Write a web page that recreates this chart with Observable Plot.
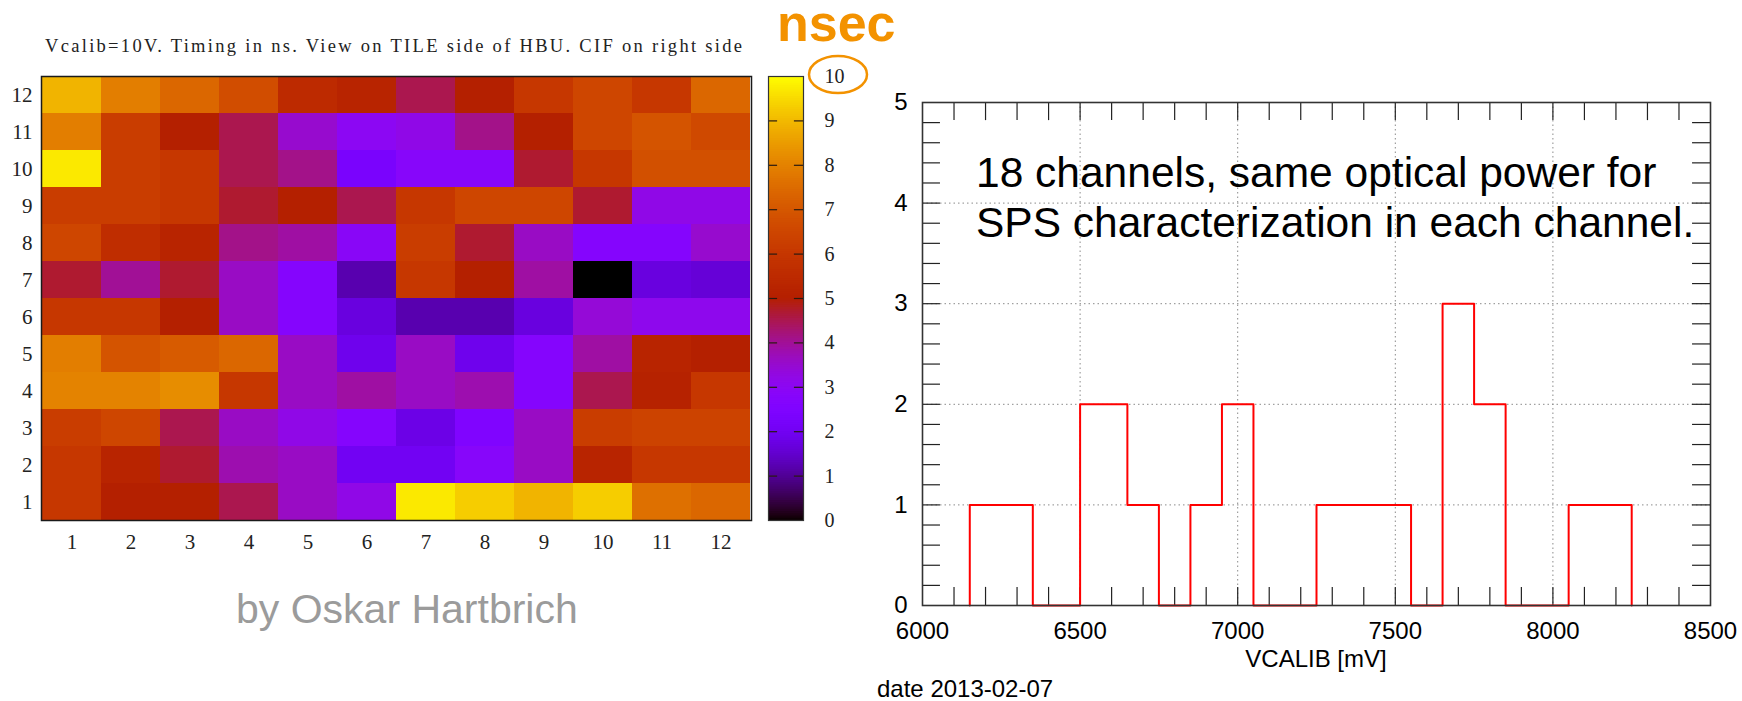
<!DOCTYPE html>
<html>
<head>
<meta charset="utf-8">
<script src="https://cdn.jsdelivr.net/npm/d3@7"></script>
<script src="https://cdn.jsdelivr.net/npm/@observablehq/plot@0.6"></script>
<style>
  html, body { margin: 0; padding: 0; background: #fff; }
  #page { position: relative; width: 1742px; height: 701px; overflow: hidden; background: #fff; }
  #page > svg { position: absolute; top: 0; }
</style>
</head>
<body>
<div id="page"></div>
<script>
// ---- Timing map: 12 x 12 tiles, timing in ns (rows listed top to bottom) ----
const colLabels = [1, 2, 3, 4, 5, 6, 7, 8, 9, 10, 11, 12];
const rowLabels = [12, 11, 10, 9, 8, 7, 6, 5, 4, 3, 2, 1];
const row12 = [8.9, 7.9, 7.4, 6.7, 5.5, 5.2, 4.5, 5.0, 6.0, 6.5, 6.0, 7.4];
const row11 = [7.9, 6.2, 5.0, 4.5, 3.5, 3.0, 3.2, 4.1, 5.0, 6.5, 6.9, 6.6];
const row10 = [9.7, 6.2, 6.0, 4.5, 4.1, 2.3, 2.8, 2.8, 4.7, 6.0, 6.8, 6.8];
const row9  = [6.2, 6.2, 6.0, 4.7, 5.0, 4.5, 6.0, 6.5, 6.5, 4.7, 3.2, 3.2];
const row8  = [6.5, 5.6, 5.2, 4.1, 3.9, 2.9, 6.2, 4.7, 3.6, 2.7, 2.7, 3.5];
const row7  = [4.7, 4.0, 4.7, 3.6, 2.7, 1.2, 6.0, 5.0, 3.9, 0.0, 1.7, 1.6];
const row6  = [6.0, 6.0, 5.0, 3.6, 2.7, 1.7, 1.2, 1.2, 1.7, 3.4, 3.1, 3.1];
const row5  = [7.9, 6.9, 7.1, 7.4, 3.6, 1.9, 3.6, 1.9, 2.7, 3.9, 5.2, 5.0];
const row4  = [8.0, 8.0, 8.2, 6.0, 3.6, 3.9, 3.6, 3.8, 2.7, 4.5, 5.1, 6.0];
const row3  = [6.2, 6.5, 4.5, 3.6, 3.2, 2.7, 1.8, 2.5, 3.6, 6.2, 6.4, 6.4];
const row2  = [6.0, 5.2, 4.7, 3.8, 3.6, 2.0, 2.0, 2.8, 3.6, 5.2, 6.0, 6.0];
const row1  = [6.0, 5.0, 5.0, 4.5, 3.6, 3.2, 9.7, 9.3, 8.9, 9.3, 7.6, 7.4];
const timingRows = [row12, row11, row10, row9, row8, row7, row6, row5, row4, row3, row2, row1];
const colorbarTicks = [0, 1, 2, 3, 4, 5, 6, 7, 8, 9, 10];

// ---- VCALIB histogram: bin edges (mV) and entries per bin ----
const binEdges = [6150, 6250, 6350, 6500, 6650, 6750, 6850, 6950, 7050, 7150, 7250,
                  7350, 7450, 7550, 7650, 7750, 7850, 7950, 8050, 8150, 8250];
const binCounts = [1, 1, 0, 2, 1, 0, 1, 2, 0, 0, 1, 1, 1, 0, 3, 2, 0, 0, 1, 1];
const xTicks = [6000, 6500, 7000, 7500, 8000, 8500];
const yTicks = [0, 1, 2, 3, 4, 5];
const xGrid = [6500, 7000, 7500, 8000];
const yGrid = [1, 2, 3, 4];

// gnuplot-style "hot" palette (rgbformulae 7,5,15): black -> violet -> red -> yellow
const palette = t => {
  t = Math.max(0, Math.min(1, t));
  const r = Math.sqrt(t), g = t * t * t, b = Math.max(0, Math.sin(2 * Math.PI * t));
  return d3.rgb(r * 255, g * 255, b * 255).formatHex();
};
const colorScale = {type: "linear", domain: [0, 10], interpolate: palette, clamp: true};

const page = document.getElementById("page");

// ---- heat map ----
const cells = [];
timingRows.forEach((vals, i) => vals.forEach((v, j) => cells.push({row: rowLabels[i], col: colLabels[j], t: v})));

const heat = Plot.plot({
  width: 770, height: 560,
  marginLeft: 41, marginRight: 19, marginTop: 76, marginBottom: 40,
  style: {background: "transparent", fontFamily: "'Liberation Serif', serif", fontSize: "21px", color: "#222", overflow: "visible"},
  x: {type: "band", domain: colLabels, padding: 0, axis: null},
  y: {type: "band", domain: rowLabels, padding: 0, axis: null},
  color: colorScale,
  marks: [
    Plot.cell(cells, {x: "col", y: "row", fill: "t", shapeRendering: "crispEdges"}),
    Plot.frame({stroke: "#1a1a1a", strokeWidth: 1.5}),
    Plot.axisX({tickSize: 0, tickPadding: 14, fontSize: 21, label: null}),
    Plot.axisY({tickSize: 0, tickPadding: 9, fontSize: 21, label: null})
  ]
});
heat.style.left = "0px";
page.appendChild(heat);

// ---- colour bar ----
const rampStops = d3.range(0, 10, 0.05);
const bar = Plot.plot({
  width: 100, height: 560,
  marginLeft: 8, marginRight: 57, marginTop: 76, marginBottom: 40,
  style: {background: "transparent", fontFamily: "'Liberation Serif', serif", fontSize: "20px", color: "#222", overflow: "visible"},
  x: {domain: [0, 1], axis: null},
  y: {domain: [0, 10], axis: null},
  color: colorScale,
  marks: [
    Plot.rect(rampStops, {x1: 0, x2: 1, y1: d => d, y2: d => Math.min(10, d + 0.07), fill: d => d + 0.025}),
    Plot.ruleY(colorbarTicks.slice(1, -1), {x1: 0, x2: 0.26, stroke: "#2a1a10", strokeWidth: 1.2}),
    Plot.ruleY(colorbarTicks.slice(1, -1), {x1: 0.74, x2: 1, stroke: "#2a1a10", strokeWidth: 1.2}),
    Plot.frame({stroke: "#333", strokeWidth: 1.2}),
    Plot.axisY(colorbarTicks, {anchor: "right", tickSize: 0, tickPadding: 21, fontSize: 20, label: null})
  ]
});
bar.style.left = "760px";
page.appendChild(bar);

// ---- histogram ----
const outline = [{x: binEdges[0], y: 0}]
  .concat(binCounts.map((c, i) => ({x: binEdges[i + 1], y: c})))
  .concat([{x: binEdges[binEdges.length - 1], y: 0}]);
const minorX = d3.range(6100, 8500, 100);
const minorY = d3.range(1, 25).map(i => i / 5);

const hist = Plot.plot({
  width: 892, height: 701,
  marginLeft: 72, marginRight: 32, marginTop: 102, marginBottom: 96,
  style: {background: "transparent", fontFamily: "'Liberation Sans', Arial, sans-serif", fontSize: "24px", color: "#000", overflow: "visible"},
  x: {domain: [6000, 8500], axis: null},
  y: {domain: [0, 5], axis: null},
  marks: [
    Plot.ruleX(xGrid, {stroke: "#8a8a8a", strokeDasharray: "1.5,3"}),
    Plot.ruleY(yGrid, {stroke: "#8a8a8a", strokeDasharray: "1.5,3"}),
    Plot.ruleX(minorX, {y1: 0, y2: 0.18, stroke: "#222", strokeWidth: 1.2}),
    Plot.ruleX(minorX, {y1: 4.82, y2: 5, stroke: "#222", strokeWidth: 1.2}),
    Plot.ruleY(minorY, {x1: 6000, x2: 6057, stroke: "#222", strokeWidth: 1.2}),
    Plot.ruleY(minorY, {x1: 8443, x2: 8500, stroke: "#222", strokeWidth: 1.2}),
    Plot.line(outline, {x: "x", y: "y", curve: "step-before", stroke: "#ff0000", strokeWidth: 2}),
    Plot.frame({stroke: "#333", strokeWidth: 1.6}),
    Plot.axisX(xTicks, {tickSize: 0, tickPadding: 16, fontSize: 24, label: null, tickFormat: d => String(d)}),
    Plot.axisY(yTicks, {tickSize: 0, tickPadding: 15, fontSize: 24, label: null, tickFormat: d => String(d)})
  ]
});
hist.style.left = "850px";
page.appendChild(hist);

// ---- titles and annotations ----
const ns = "http://www.w3.org/2000/svg";
const over = document.createElementNS(ns, "svg");
over.setAttribute("width", 1742);
over.setAttribute("height", 701);
over.style.left = "0px";
over.style.pointerEvents = "none";
function addText(str, attrs) {
  const t = document.createElementNS(ns, "text");
  for (const k in attrs) t.setAttribute(k, attrs[k]);
  t.textContent = str;
  over.appendChild(t);
  return t;
}
addText("Vcalib=10V. Timing in ns. View on TILE side of HBU. CIF on right side",
  {x: 45, y: 52, "font-family": "'Liberation Serif', serif", "font-size": 18.5, fill: "#222",
   textLength: 697, lengthAdjust: "spacing"});
addText("nsec", {x: 777, y: 41, "font-family": "'Liberation Sans', Arial, sans-serif", "font-size": 52,
  "font-weight": "bold", fill: "#F39200"});
const ring = document.createElementNS(ns, "ellipse");
ring.setAttribute("cx", 838); ring.setAttribute("cy", 74.5);
ring.setAttribute("rx", 29); ring.setAttribute("ry", 18.5);
ring.setAttribute("fill", "none"); ring.setAttribute("stroke", "#F39200"); ring.setAttribute("stroke-width", 2.5);
over.appendChild(ring);
addText("by Oskar Hartbrich", {x: 236, y: 623, "font-family": "'Liberation Sans', Arial, sans-serif",
  "font-size": 41, fill: "#9b9b9b"});
addText("18 channels, same optical power for", {x: 976, y: 187, "font-family": "'Liberation Sans', Arial, sans-serif",
  "font-size": 42.5, fill: "#000"});
addText("SPS characterization in each channel.", {x: 976, y: 237, "font-family": "'Liberation Sans', Arial, sans-serif",
  "font-size": 42.5, fill: "#000"});
addText("VCALIB [mV]", {x: 1316, y: 667, "text-anchor": "middle", "font-family": "'Liberation Sans', Arial, sans-serif",
  "font-size": 24, fill: "#000"});
addText("date 2013-02-07", {x: 877, y: 697, "font-family": "'Liberation Sans', Arial, sans-serif",
  "font-size": 24, fill: "#000"});
page.appendChild(over);
</script>
</body>
</html>
